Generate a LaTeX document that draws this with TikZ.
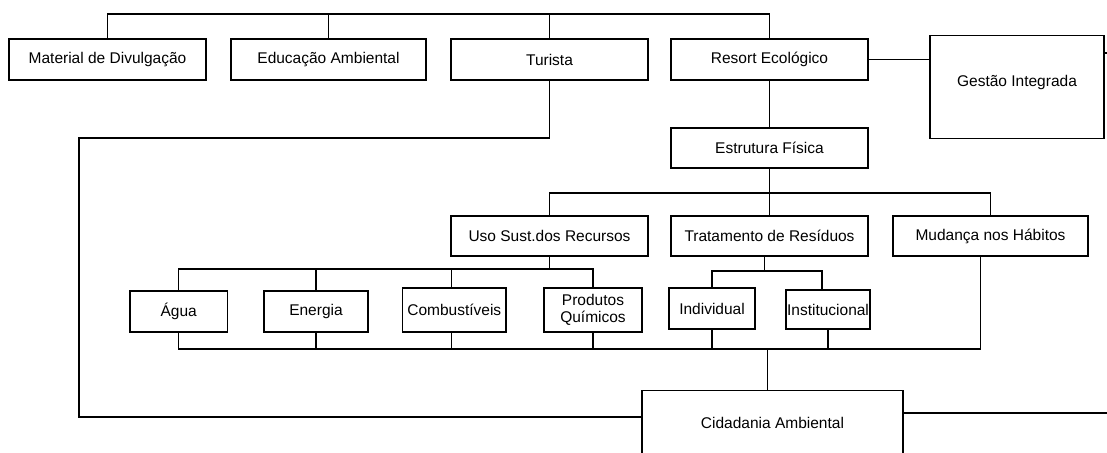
\documentclass[tikz,border=0pt]{standalone}
\usepackage{fontspec}
\setmainfont{Liberation Sans}
\begin{document}
\begin{tikzpicture}[x=1pt,y=-1pt,
  box/.style={draw, line width=1.2pt, inner sep=0pt, minimum height=41pt,
    align=center, font=\fontsize{15.5}{17}\selectfont},
  conn/.style={line width=1.2pt}]
\useasboundingbox (0,0) rectangle (1107,452);
\clip (0,0) rectangle (1107,452);
% top row
\node[box, minimum width=197pt] (mat) at (107.5,59.5) {Material de Divulgação};
\node[box, minimum width=195pt] (edu) at (328.5,59.5) {Educação Ambiental};
\node[box, minimum width=197pt] (tur) at (549.5,59.5) {Turista};
\node[box, minimum width=197pt] (res) at (769.5,59.5) {Resort Ecológico};
\node[box, minimum width=174pt, text height=51pt, text depth=52pt, anchor=north] (ges) at (1017,35) {Gestão Integrada};
% second level
\node[box, minimum width=197pt, minimum height=40pt] (est) at (769.5,148) {Estrutura Física};
% third level
\node[box, minimum width=197pt, minimum height=40pt] (uso) at (549.5,236) {Uso Sust.dos Recursos};
\node[box, minimum width=197pt, minimum height=40pt] (tra) at (769.5,236) {Tratamento de Resíduos};
\node[box, minimum width=195pt, minimum height=40pt] (mud) at (990.5,236) {Mudança nos Hábitos};
% fourth level
\node[box, minimum width=97.5pt] (agu) at (178.75,311.5) {Água};
\node[box, minimum width=104pt] (ene) at (316,311.5) {Energia};
\node[box, minimum width=103.5pt, minimum height=44pt] (com) at (454.25,310) {Combustíveis};
\node[box, minimum width=98pt, minimum height=44pt, font=\fontsize{15.5}{17}\selectfont] (pro) at (593,310) {Produtos\\Químicos};
\node[box, minimum width=86pt] (ind) at (712,308.5) {Individual};
\node[box, minimum width=84pt, minimum height=39pt] (ins) at (828,309.5) {Institucional};
% bottom
\node[box, minimum width=261pt, text height=38pt, text depth=80pt, anchor=north] (cid) at (772.5,390) {Cidadania Ambiental};
% helper coordinates
\coordinate (topbus) at (0,14);
\coordinate (estbus) at (0,193);
\coordinate (rowbus) at (0,269);
\coordinate (trabus) at (0,271);
\coordinate (botbus) at (0,349);
\coordinate (tl) at (79,138);
\coordinate (cidout) at (1107,413);
\coordinate (gesout) at (1107,53);
% connectors
\draw[conn] (mat.north) -- (mat.north |- topbus) -| (res.north);
\draw[conn] (edu.north) -- (edu.north |- topbus);
\draw[conn] (tur.north) -- (tur.north |- topbus);
\draw[conn] (res.east) -- (res.east -| ges.west);
\draw[conn] (gesout -| ges.east) -- (gesout);
\draw[conn] (res.south) -- (est.north);
\draw[conn] (est.south) -- (tra.north);
\draw[conn] (uso.north) -- (uso.north |- estbus) -| (mud.north);
\draw[conn] (tur.south) |- (tl) |- ([yshift=-27pt]cid.north west);
\draw[conn] ([yshift=-23pt]cid.north east) -- (cidout);
\draw[conn] (uso.south) -- (uso.south |- rowbus);
\draw[conn] (agu.north) -- (agu.north |- rowbus) -| (pro.north);
\draw[conn] (ene.north) -- (ene.north |- rowbus);
\draw[conn] ([xshift=-3pt]com.north) -- ([xshift=-3pt]com.north |- rowbus);
\draw[conn] ([xshift=-5pt]tra.south) -- ([xshift=-5pt]tra.south |- trabus);
\draw[conn] (ind.north) -- (ind.north |- trabus) -| ([xshift=-6pt]ins.north);
\draw[conn] (agu.south) -- (agu.south |- botbus) -| ([xshift=-10pt]mud.south);
\foreach \n in {ene,pro,ind}
  \draw[conn] (\n.south) -- (\n.south |- botbus);
\draw[conn] ([xshift=-3pt]com.south) -- ([xshift=-3pt]com.south |- botbus);
\draw[conn] (ins.south) -- (ins.south |- botbus);
\draw[conn] ([xshift=-5pt]cid.north) -- ([xshift=-5pt]cid.north |- botbus);
\end{tikzpicture}
\end{document}
